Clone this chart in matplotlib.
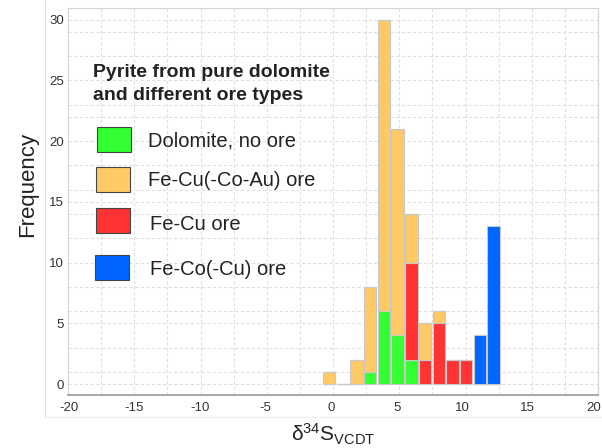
import numpy as np
import matplotlib
matplotlib.use("Agg")
import matplotlib.pyplot as plt
import matplotlib.transforms as mtransforms
from matplotlib.patches import Rectangle
from matplotlib.lines import Line2D

# bin centres of the histogram (delta34S, per mil)
bin_centers = [-0.29, 0.74, 1.78, 2.81, 3.85, 4.88, 5.91, 6.95, 7.98, 9.02, 10.05, 11.08, 12.12]

# counts per bin for each group
dolomite = [0, 0, 0, 1, 6, 4, 2, 0, 0, 0, 0, 0, 0]
fe_cu = [0, 0, 0, 0, 0, 0, 8, 2, 5, 2, 2, 0, 0]
fe_cu_co_au = [1, 0, 2, 7, 24, 17, 4, 3, 1, 0, 0, 0, 0]
fe_co_cu = [0, 0, 0, 0, 0, 0, 0, 0, 0, 0, 0, 4, 13]

labels = ["Dolomite, no ore", "Fe-Cu(-Co-Au) ore", "Fe-Cu ore", "Fe-Co(-Cu) ore"]
colors = ["#33ff33", "#ffc966", "#ff3333", "#0066ff"]
legend_title = ["Pyrite from pure dolomite", "and different ore types"]

x_ticks = [-20, -15, -10, -5, 0, 5, 10, 15, 20]
y_ticks = [0, 5, 10, 15, 20, 25, 30]
y_grid = [1, 3, 6, 8, 10, 12, 14, 16, 18, 20, 22, 23, 25, 27, 29]

plt.rcParams['font.family'] = ['Liberation Sans', 'DejaVu Sans']
plt.rcParams['mathtext.fontset'] = 'custom'
plt.rcParams['mathtext.rm'] = 'Liberation Sans'
plt.rcParams['axes.unicode_minus'] = False

W, H = 602, 448
fig = plt.figure(figsize=(W / 100, H / 100), dpi=100)
ax = fig.add_axes([68 / W, 53 / H, 530 / W, 387 / H])

width = 0.94
edge = "#c8c8c8"
dol = np.array(dolomite)
red = np.array(fe_cu)
yel = np.array(fe_cu_co_au)
blu = np.array(fe_co_cu)

ax.bar(bin_centers, dol, width=width, color=colors[0], edgecolor=edge, linewidth=0.8, zorder=3)
ax.bar(bin_centers, red, width=width, bottom=dol, color=colors[2], edgecolor=edge, linewidth=0.8, zorder=3)
ax.bar(bin_centers, yel, width=width, bottom=dol + red, color=colors[1], edgecolor=edge, linewidth=0.8, zorder=3)
ax.bar(bin_centers, blu, width=width, bottom=dol + red + yel, color=colors[3], edgecolor=edge, linewidth=0.8, zorder=3)

ax.set_xlim(-20, 20)
ax.set_ylim(-0.9, 30.95)
ax.set_xticks(x_ticks)
ax.set_xticks(np.arange(-17.5, 20, 5), minor=True)
ax.set_yticks(y_ticks)
ax.set_yticks(y_grid, minor=True)
ax.tick_params(which='both', length=0, labelsize=9.5, labelcolor='#333333')
ax.tick_params(axis='y', pad=3)
ax.tick_params(axis='x', pad=5)
ax.grid(True, which='both', color='#e0e0e0', linestyle=(0, (3, 2)), linewidth=0.8, zorder=0)

# the reference spaces x tick labels slightly tighter than the ticks
for v, lab in zip(x_ticks, ax.get_xticklabels()):
    shift = mtransforms.ScaledTranslation((-2 - 0.13 * v) / 100, 0, fig.dpi_scale_trans)
    lab.set_transform(lab.get_transform() + shift)

for side in ['left', 'top', 'right']:
    ax.spines[side].set_color('#d4d4d4')
ax.spines['bottom'].set_color('#9a9a9a')
ax.spines['bottom'].set_linewidth(1.2)

ax.set_ylabel("Frequency", fontsize=16, color='#222222')
ax.yaxis.set_label_coords(-0.056, 0.545)
ax.set_xlabel(r'$\mathregular{δ^{34}S_{VCDT}}$', fontsize=15, color='#222222', labelpad=6)


def px(x, y):
    # pixel position from top-left -> figure fraction
    return x / W, 1 - y / H


# legend drawn by hand to follow the reference layout
fig.text(*px(93, 77), legend_title[0], fontsize=14, fontweight='bold', color='#222222', va='baseline')
fig.text(*px(93, 100), legend_title[1], fontsize=14, fontweight='bold', color='#222222', va='baseline')
patch_boxes = [(97, 127), (96, 167), (96, 208), (95, 255)]
text_pos = [(148, 139), (148, 179), (150, 222), (150, 267)]
for (bx, by), (tx, ty), c, lab in zip(patch_boxes, text_pos, colors, labels):
    x0, y0 = px(bx, by + 25)
    fig.add_artist(Rectangle((x0, y0), 34 / W, 25 / H, transform=fig.transFigure,
                             facecolor=c, edgecolor='#444444', linewidth=0.8))
    fig.text(*px(tx, ty), lab, fontsize=14.5, color='#222222', va='center_baseline')

# outer frame of the original figure
fig.add_artist(Line2D([45 / W, 45 / W], [31 / H, 1], color='#dddddd', lw=0.8))
fig.add_artist(Line2D([45 / W, 1], [31 / H, 31 / H], color='#eeeeee', lw=0.8))

fig.savefig("out.png", dpi=100)
